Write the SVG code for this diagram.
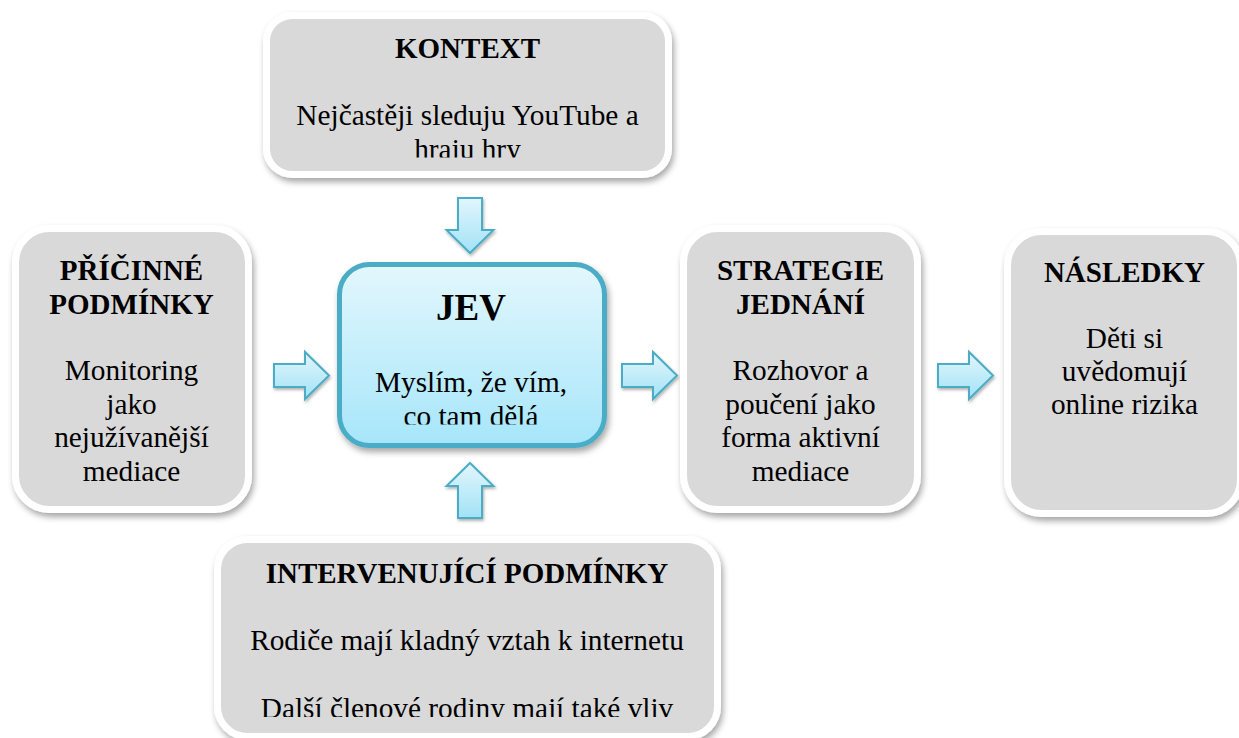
<svg xmlns="http://www.w3.org/2000/svg" width="1239" height="738" viewBox="0 0 1239 738">
  <defs>
    <filter id="shadow" x="-10%" y="-10%" width="120%" height="125%">
      <feDropShadow dx="2" dy="4" stdDeviation="3" flood-color="#000" flood-opacity="0.35"/>
    </filter>
    <filter id="ashadow" x="-20%" y="-20%" width="140%" height="150%">
      <feDropShadow dx="1" dy="2" stdDeviation="1.5" flood-color="#000" flood-opacity="0.3"/>
    </filter>
    <linearGradient id="jevGrad" x1="0" y1="0" x2="0" y2="1">
      <stop offset="0" stop-color="#e3f7fd"/>
      <stop offset="1" stop-color="#a6e6fa"/>
    </linearGradient>
    <linearGradient id="arrGrad" x1="0" y1="0" x2="0" y2="1">
      <stop offset="0" stop-color="#e2f6fd"/>
      <stop offset="1" stop-color="#a2e2f6"/>
    </linearGradient>
    <clipPath id="clipKontext"><rect x="0" y="0" width="1239" height="157.5"/></clipPath>
    <clipPath id="clipJev"><rect x="0" y="0" width="1239" height="424.5"/></clipPath>
    <clipPath id="clipInter"><rect x="0" y="0" width="1239" height="717"/></clipPath>
  </defs>
  <style>
    .box { fill: #d9d9d9; stroke: #ffffff; stroke-width: 7; filter: url(#shadow); }
    .jev { fill: url(#jevGrad); stroke: #4bacc6; stroke-width: 5; filter: url(#shadow); }
    .arrow { fill: url(#arrGrad); stroke: #4bacc6; stroke-width: 2; stroke-linejoin: miter; filter: url(#ashadow); }
    .h { font-family: "Liberation Serif", "DejaVu Serif", serif; font-weight: bold; font-size: 29px; fill: #000; text-anchor: middle; }
    .hj { font-family: "Liberation Serif", "DejaVu Serif", serif; font-weight: bold; font-size: 37px; fill: #000; text-anchor: middle; }
    .t { font-family: "Liberation Serif", "DejaVu Serif", serif; font-size: 29.3px; fill: #000; text-anchor: middle; }
  </style>
  <rect width="1239" height="738" fill="#ffffff"/>

  <g id="connectors">
    <path class="arrow" d="M458,198 H482 V230 H493.5 L470,253 L446.5,230 H458 Z"/>
    <path class="arrow" d="M470,463 L493.5,486 H482 V518 H458 V486 H446.5 Z"/>
    <path class="arrow" d="M274,364 H305 V352 L329,375.5 L305,399 V387 H274 Z"/>
    <path class="arrow" d="M622,364 H653 V352 L677,375.5 L653,399 V387 H622 Z"/>
    <path class="arrow" d="M938,364 H969 V352 L993,375.5 L969,399 V387 H938 Z"/>
  </g>

  <g id="node-kontext">
    <rect class="box" x="266.5" y="15.5" width="402" height="159" rx="26"/>
    <text class="h" x="467.5" y="58">KONTEXT</text>
    <g clip-path="url(#clipKontext)">
      <text class="t" x="467.5" y="125">Nejčastěji sleduju YouTube a</text>
      <text class="t" x="467.5" y="158.5">hraju hry</text>
    </g>
  </g>

  <g id="node-priciny">
    <rect class="box" x="15.5" y="228.5" width="233" height="281" rx="34"/>
    <text class="h" x="131.5" y="280">PŘÍČINNÉ</text>
    <text class="h" x="131.5" y="313.5">PODMÍNKY</text>
    <text class="t" x="131.5" y="380">Monitoring</text>
    <text class="t" x="131.5" y="413.5">jako</text>
    <text class="t" x="131.5" y="447">nejužívanější</text>
    <text class="t" x="131.5" y="480.5">mediace</text>
  </g>

  <g id="node-jev">
    <rect class="jev" x="339.5" y="264.5" width="265" height="181" rx="30"/>
    <text class="hj" x="471" y="320">JEV</text>
    <g clip-path="url(#clipJev)">
      <text class="t" x="471" y="392">Myslím, že vím,</text>
      <text class="t" x="471" y="425.5">co tam dělá</text>
    </g>
  </g>

  <g id="node-strategie">
    <rect class="box" x="683.5" y="228.5" width="234" height="281" rx="34"/>
    <text class="h" x="800.5" y="280">STRATEGIE</text>
    <text class="h" x="800.5" y="313.5">JEDNÁNÍ</text>
    <text class="t" x="800.5" y="380">Rozhovor a</text>
    <text class="t" x="800.5" y="413.5">poučení jako</text>
    <text class="t" x="800.5" y="447">forma aktivní</text>
    <text class="t" x="800.5" y="480.5">mediace</text>
  </g>

  <g id="node-nasledky">
    <rect class="box" x="1007.5" y="231.5" width="233" height="282" rx="34"/>
    <text class="h" x="1124.5" y="282">NÁSLEDKY</text>
    <text class="t" x="1124.5" y="348">Děti si</text>
    <text class="t" x="1124.5" y="381">uvědomují</text>
    <text class="t" x="1124.5" y="414">online rizika</text>
  </g>

  <g id="node-intervenujici">
    <rect class="box" x="217.5" y="539.5" width="500" height="197" rx="30"/>
    <text class="h" x="467" y="583">INTERVENUJÍCÍ PODMÍNKY</text>
    <text class="t" x="467" y="650">Rodiče mají kladný vztah k internetu</text>
    <g clip-path="url(#clipInter)">
      <text class="t" x="467" y="718">Další členové rodiny mají také vliv</text>
    </g>
  </g>
</svg>
